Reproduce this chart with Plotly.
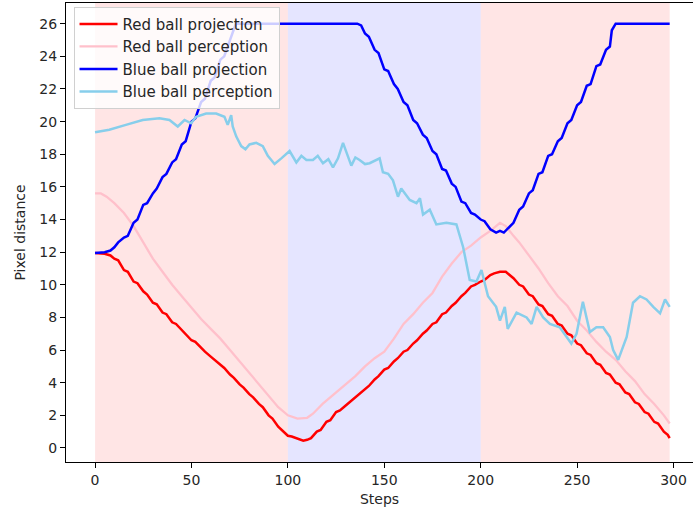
import plotly.graph_objects as go

# ---------------- data ----------------
steps_red_proj = [0, 5, 8, 10, 12, 15, 17, 20, 22, 25, 27, 30, 32, 35, 37, 40, 42, 45, 47, 50, 52,
                  55, 57, 60, 62, 65, 67, 70, 72, 75, 77, 80, 82, 85, 87, 90, 92, 95, 97, 100, 102,
                  105, 108, 110, 112, 115, 117, 120, 122, 125, 127, 130, 132, 135, 137, 140, 142,
                  145, 147, 150, 152, 155, 157, 160, 162, 165, 167, 170, 172, 175, 177, 180, 182,
                  185, 187, 190, 192, 195, 197, 200, 202, 205, 207, 210, 213, 215, 217, 220, 222,
                  225, 227, 230, 232, 235, 237, 240, 242, 245, 247, 250, 252, 255, 257, 260, 262,
                  265, 267, 270, 272, 275, 277, 280, 282, 285, 287, 290, 292, 295, 297, 298]
red_proj = [11.95, 11.9, 11.8, 11.6, 11.5, 10.9, 10.8, 10.2, 10.1, 9.6, 9.4, 8.9, 8.8, 8.3, 8.2,
            7.7, 7.6, 7.2, 7.0, 6.6, 6.5, 6.1, 5.9, 5.6, 5.4, 5.1, 4.9, 4.5, 4.3, 3.9, 3.7, 3.3,
            3.1, 2.7, 2.5, 2.0, 1.8, 1.3, 1.1, 0.75, 0.7, 0.55, 0.45, 0.5, 0.6, 1.0, 1.1, 1.6,
            1.7, 2.2, 2.3, 2.6, 2.8, 3.1, 3.3, 3.6, 3.8, 4.2, 4.4, 4.8, 4.9, 5.3, 5.5, 5.9, 6.0,
            6.4, 6.6, 7.0, 7.2, 7.6, 7.7, 8.2, 8.3, 8.7, 8.9, 9.3, 9.5, 9.9, 10.0, 10.2, 10.3,
            10.6, 10.7, 10.8, 10.8, 10.6, 10.4, 10.0, 9.9, 9.4, 9.3, 8.8, 8.7, 8.2, 8.1, 7.6, 7.5,
            7.0, 6.9, 6.4, 6.3, 5.8, 5.7, 5.2, 5.1, 4.6, 4.5, 4.0, 3.9, 3.4, 3.3, 2.8, 2.7, 2.2,
            2.1, 1.6, 1.5, 1.0, 0.8, 0.6]

steps_red_perc = [0, 3, 6, 10, 15, 20, 25, 30, 35, 40, 45, 50, 55, 60, 65, 70, 75, 80, 85, 90, 95,
                  100, 105, 110, 113, 118, 125, 130, 135, 140, 145, 150, 155, 160, 165, 170, 175,
                  180, 185, 190, 195, 200, 205, 210, 213, 217, 220, 225, 230, 235, 240, 245, 250,
                  255, 260, 265, 270, 275, 280, 285, 290, 295, 298]
red_perc = [15.6, 15.6, 15.4, 15.0, 14.4, 13.6, 12.6, 11.6, 10.8, 10.0, 9.3, 8.6, 7.9, 7.3, 6.7,
            6.0, 5.3, 4.6, 3.9, 3.2, 2.5, 2.0, 1.8, 1.85, 2.1, 2.7, 3.4, 3.9, 4.4, 5.0, 5.5, 5.9,
            6.7, 7.6, 8.2, 8.9, 9.5, 10.5, 11.3, 12.0, 12.4, 12.9, 13.3, 13.8, 13.6, 13.0, 12.6,
            11.8, 11.0, 10.1, 9.3, 8.7, 7.8, 7.2, 6.5, 5.9, 5.4, 4.7, 4.1, 3.3, 2.7, 2.0, 1.5]

steps_blue_proj = [0, 5, 8, 10, 12, 15, 17, 20, 22, 25, 27, 30, 32, 35, 37, 40, 42, 45, 47, 50, 52,
                   55, 57, 60, 62, 65, 67, 70, 71, 73, 100, 136, 138, 140, 142, 145, 147, 150, 152,
                   155, 157, 160, 162, 165, 167, 170, 172, 175, 177, 180, 182, 185, 187, 190, 192,
                   195, 197, 200, 202, 205, 208, 210, 212, 215, 217, 220, 222, 225, 227, 230, 232,
                   235, 237, 240, 242, 245, 247, 250, 252, 255, 257, 260, 262, 265, 267, 268, 270,
                   298]
blue_proj = [11.95, 12.0, 12.1, 12.3, 12.6, 12.9, 13.0, 13.8, 14.0, 14.9, 15.0, 15.6, 15.9, 16.6,
             16.8, 17.5, 17.7, 18.6, 18.8, 20.0, 20.2, 21.2, 21.4, 22.5, 22.7, 23.8, 24.0, 25.0,
             25.2, 26.0, 26.0, 26.0, 25.9, 25.4, 25.2, 24.4, 24.2, 23.2, 23.1, 22.3, 22.0, 21.2,
             21.0, 20.1, 19.9, 19.2, 19.0, 18.2, 18.0, 17.1, 17.0, 16.2, 16.0, 15.1, 15.0, 14.4,
             14.3, 14.0, 13.9, 13.4, 13.2, 13.3, 13.2, 13.6, 13.8, 14.6, 14.8, 15.6, 15.8, 16.8,
             16.9, 17.9, 18.0, 18.8, 19.0, 19.9, 20.1, 21.0, 21.2, 22.2, 22.3, 23.4, 23.5, 24.4,
             24.6, 25.6, 26.0, 26.0]

steps_blue_perc = [0, 7.4, 16, 24.7, 33.4, 38.6, 42.9, 46.4, 49.8, 52.4, 57.6, 62.8, 67.1, 68.8,
                   70.6, 71.4, 73.2, 75.8, 78, 80.1, 83.6, 87, 89.6, 93.1, 96.6, 100.9, 104.4,
                   107, 109.6, 113, 115.5, 118.2, 121, 123.4, 126, 128.6, 132.9, 135, 137.2, 140,
                   142.4, 145, 147.6, 149.3, 152, 154.5, 157.1, 158.8, 160.6, 163.2, 166.7, 168.5,
                   170.1, 173.6, 177, 182.2, 187.4, 190.9, 194.3, 197.8, 200.4, 203.8, 208, 210,
                   212.5, 214, 218.6, 223.8, 226.4, 229, 232.4, 235.9, 241, 247, 249.7, 253, 256.6,
                   260, 263.5, 267, 268.7, 271.3, 275.7, 279, 282.6, 286, 289.5, 293, 295.6, 298]
blue_perc = [19.35, 19.5, 19.8, 20.1, 20.2, 20.1, 19.7, 20.1, 19.9, 20.3, 20.5, 20.5, 20.3, 19.8,
             20.4, 19.7, 19.1, 18.5, 18.3, 18.6, 18.7, 18.5, 17.9, 17.4, 17.75, 18.2, 17.5, 17.9,
             17.65, 17.65, 17.9, 17.45, 17.7, 17.2, 17.75, 18.7, 17.3, 17.8, 17.65, 17.4, 17.45,
             17.6, 17.75, 16.9, 16.8, 16.4, 15.4, 15.9, 15.6, 15.2, 15.0, 15.3, 14.3, 14.6, 13.7,
             13.8, 13.7, 12.3, 10.3, 10.2, 10.9, 9.3, 8.65, 7.8, 8.65, 7.3, 8.3, 8.0, 7.6, 8.65,
             8.0, 7.6, 7.4, 6.4, 7.0, 8.96, 7.1, 7.4, 7.4, 6.8, 6.0, 5.4, 6.8, 8.9, 9.3, 9.1, 8.65,
             8.25, 9.1, 8.65]

phase_starts = [0, 100, 200]
phase_ends = [100, 200, 298]
phase_colors = ["rgba(255,0,0,0.1)", "rgba(0,0,255,0.1)", "rgba(255,0,0,0.1)"]

x_ticks = [0, 50, 100, 150, 200, 250, 300]
y_ticks = list(range(0, 27, 2))

FONT = "DejaVu Sans"

fig = go.Figure()
fig.add_trace(go.Scatter(x=steps_red_proj, y=red_proj, mode="lines", name="Red ball projection",
                         line=dict(color="red", width=2.5)))
fig.add_trace(go.Scatter(x=steps_red_perc, y=red_perc, mode="lines", name="Red ball perception",
                         line=dict(color="pink", width=2.3)))
fig.add_trace(go.Scatter(x=steps_blue_proj, y=blue_proj, mode="lines", name="Blue ball projection",
                         line=dict(color="blue", width=2.5)))
fig.add_trace(go.Scatter(x=steps_blue_perc, y=blue_perc, mode="lines", name="Blue ball perception",
                         line=dict(color="skyblue", width=2.5)))

for x0, x1, c in zip(phase_starts, phase_ends, phase_colors):
    fig.add_shape(type="rect", xref="x", yref="paper", x0=x0, x1=x1, y0=0, y1=1,
                  fillcolor=c, line=dict(width=0), layer="below")

fig.update_layout(
    width=693, height=512,
    margin=dict(l=66, r=0, t=3, b=50),
    paper_bgcolor="white", plot_bgcolor="white",
    font=dict(family=FONT, size=14, color="#262626"),
    showlegend=True,
    legend=dict(x=0.012, y=0.992, xanchor="left", yanchor="top", itemwidth=38,
                bgcolor="rgba(255,255,255,0.8)", bordercolor="#d0d0d0", borderwidth=1,
                font=dict(family=FONT, size=15, color="#262626")),
    xaxis=dict(range=[-15.06, 310.1], tickvals=x_ticks, ticks="outside", ticklen=5,
               tickcolor="black", showline=True, linecolor="black", linewidth=1, mirror=True,
               showgrid=False, zeroline=False,
               title=dict(text="Steps", font=dict(family=FONT, size=14), standoff=7)),
    yaxis=dict(range=[-0.86, 27.27], tickvals=y_ticks, ticks="outside", ticklen=5,
               tickcolor="black", showline=True, linecolor="black", linewidth=1,
               showgrid=False, zeroline=False,
               title=dict(text="Pixel distance", font=dict(family=FONT, size=14), standoff=10)),
)

fig.write_html("out.html")
